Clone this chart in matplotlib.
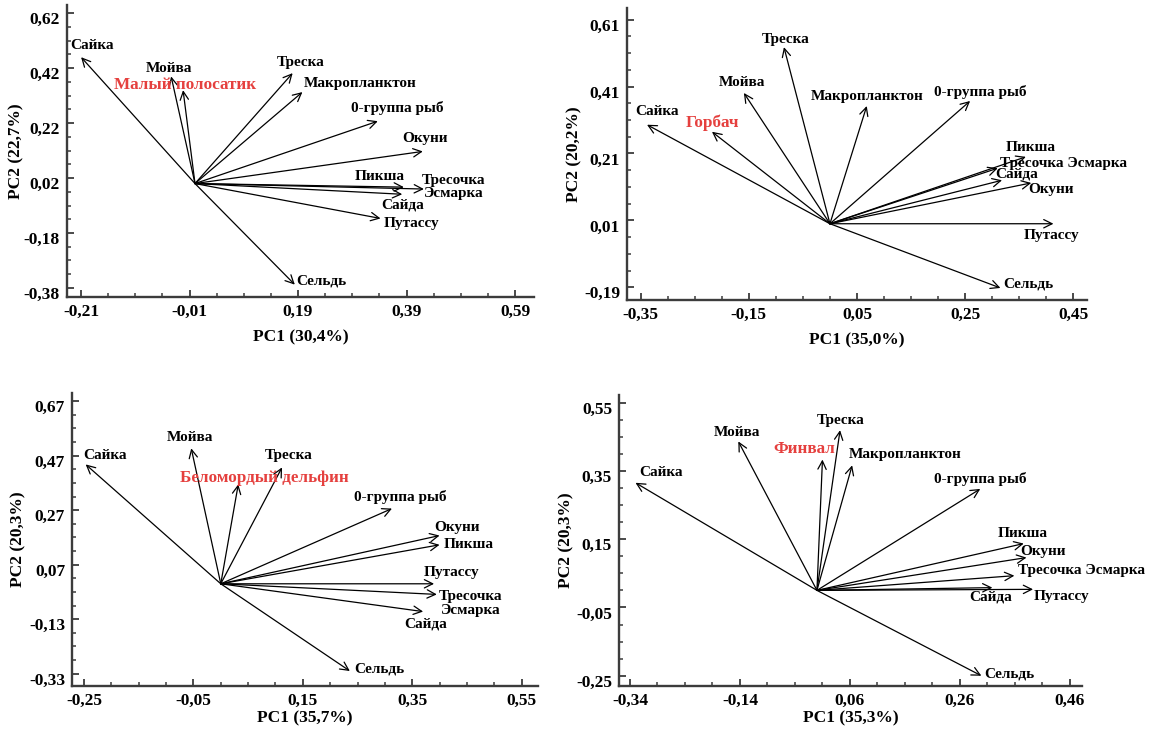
import matplotlib
matplotlib.use('Agg')
import matplotlib.pyplot as plt
from matplotlib.transforms import ScaledTranslation

plt.rcParams['font.family'] = ['Liberation Serif', 'DejaVu Serif']
plt.rcParams['font.weight'] = 'bold'

# ---------------- data ----------------
p1_species = ['Сайка', 'Мойва', 'Малый полосатик', 'Треска', 'Макропланктон', '0-группа рыб',
              'Окуни', 'Пикша', 'Тресочка Эсмарка', 'Сайда', 'Путассу', 'Сельдь']
p1_pc1 = [-0.210, -0.044, -0.022, 0.180, 0.198, 0.337, 0.420, 0.385, 0.422, 0.382, 0.342, 0.184]
p1_pc2 = [0.460, 0.390, 0.340, 0.402, 0.333, 0.227, 0.117, -0.013, -0.020, -0.039, -0.127, -0.368]
p1_xlabel = 'PC1 (30,4%)'
p1_ylabel = 'PC2 (22,7%)'
p1_xticks = [-0.21, -0.01, 0.19, 0.39, 0.59]
p1_yticks = [-0.38, -0.18, 0.02, 0.22, 0.42, 0.62]

p2_species = ['Сайка', 'Горбач', 'Мойва', 'Треска', 'Макропланктон', '0-группа рыб',
              'Пикша', 'Тресочка Эсмарка', 'Сайда', 'Окуни', 'Путассу', 'Сельдь']
p2_pc1 = [-0.338, -0.218, -0.159, -0.085, 0.068, 0.259, 0.362, 0.310, 0.318, 0.372, 0.413, 0.315]
p2_pc2 = [0.296, 0.275, 0.391, 0.528, 0.352, 0.367, 0.200, 0.166, 0.130, 0.122, 0.000, -0.192]
p2_xlabel = 'PC1 (35,0%)'
p2_ylabel = 'PC2 (20,2%)'
p2_xticks = [-0.35, -0.15, 0.05, 0.25, 0.45]
p2_yticks = [-0.19, 0.01, 0.21, 0.41, 0.61]

p3_species = ['Сайка', 'Мойва', 'Беломордый дельфин', 'Треска', '0-группа рыб', 'Окуни',
              'Пикша', 'Путассу', 'Тресочка Эсмарка', 'Сайда', 'Сельдь']
p3_pc1 = [-0.247, -0.054, 0.032, 0.112, 0.313, 0.400, 0.400, 0.390, 0.395, 0.370, 0.236]
p3_pc2 = [0.438, 0.497, 0.365, 0.427, 0.276, 0.177, 0.143, 0.000, -0.039, -0.102, -0.320]
p3_xlabel = 'PC1 (35,7%)'
p3_ylabel = 'PC2 (20,3%)'
p3_xticks = [-0.25, -0.05, 0.15, 0.35, 0.55]
p3_yticks = [-0.33, -0.13, 0.07, 0.27, 0.47, 0.67]

p4_species = ['Сайка', 'Мойва', 'Финвал', 'Треска', 'Макропланктон', '0-группа рыб',
              'Пикша', 'Окуни', 'Тресочка Эсмарка', 'Сайда', 'Путассу', 'Сельдь']
p4_pc1 = [-0.330, -0.143, 0.010, 0.042, 0.064, 0.297, 0.376, 0.381, 0.359, 0.319, 0.393, 0.299]
p4_pc2 = [0.315, 0.436, 0.383, 0.469, 0.366, 0.297, 0.137, 0.096, 0.043, 0.008, 0.003, -0.250]
p4_xlabel = 'PC1 (35,3%)'
p4_ylabel = 'PC2 (20,3%)'
p4_xticks = [-0.34, -0.14, 0.06, 0.26, 0.46]
p4_yticks = [-0.25, -0.05, 0.15, 0.35, 0.55]

whales = ['Малый полосатик', 'Горбач', 'Беломордый дельфин', 'Финвал']

# ---------------- layout (pixels) ----------------
W, H = 1150, 732
RED = '#e5403e'
layout = [
    dict(rect=(67, 534, 5, 297), xlim=(-0.236, 0.625), ylim=(-0.413, 0.65), ylab_x=16, xlab_y=337,
         wrap={'Тресочка Эсмарка'},
         off={'Сайка': (11, -12), 'Мойва': (-2, -8), 'Малый полосатик': (2, -5), 'Треска': (8, -11),
              'Макропланктон': (58, -9), '0-группа рыб': (20, -13), 'Окуни': (2, -13),
              'Пикша': (-24, -11), 'Тресочка Эсмарка': (30, -2), 'Сайда': (0, 11),
              'Путассу': (31, 5), 'Сельдь': (27, -4)}),
    dict(rect=(627, 1087, 8, 300), xlim=(-0.375, 0.475), ylim=(-0.228, 0.645), ylab_x=574, xlab_y=340,
         wrap=set(),
         off={'Сайка': (10, -13), 'Горбач': (0, -9), 'Мойва': (-2, -10), 'Треска': (2, -8),
              'Макропланктон': (0, -10), '0-группа рыб': (10, -9), 'Пикша': (5, -9),
              'Тресочка Эсмарка': (66, -5), 'Сайда': (15, -6), 'Окуни': (20, 7),
              'Путассу': (-2, 12), 'Сельдь': (28, -4)}),
    dict(rect=(72, 538, 393, 686), xlim=(-0.272, 0.58), ylim=(-0.375, 0.70), ylab_x=18, xlab_y=718,
         wrap={'Тресочка Эсмарка'},
         off={'Сайка': (19, -9), 'Мойва': (-1, -11), 'Беломордый дельфин': (26, -6), 'Треска': (7, -12),
              '0-группа рыб': (8, -12), 'Окуни': (17, -8), 'Пикша': (29, 0), 'Путассу': (17, -11),
              'Тресочка Эсмарка': (34, 9), 'Сайда': (2, 12), 'Сельдь': (29, -2)}),
    dict(rect=(619, 1082, 395, 686), xlim=(-0.36, 0.482), ylim=(-0.28, 0.572), ylab_x=566, xlab_y=718,
         wrap=set(),
         off={'Сайка': (26, -10), 'Мойва': (-1, -9), 'Финвал': (-18, -11), 'Треска': (1, -10),
              'Макропланктон': (53, -11), '0-группа рыб': (0, -10), 'Пикша': (-1, -10),
              'Окуни': (17, -6), 'Тресочка Эсмарка': (67, -5), 'Сайда': (-2, 9),
              'Путассу': (28, 7), 'Сельдь': (28, -2)}),
]

panels = [
    (p1_species, p1_pc1, p1_pc2, p1_xticks, p1_yticks, p1_xlabel, p1_ylabel),
    (p2_species, p2_pc1, p2_pc2, p2_xticks, p2_yticks, p2_xlabel, p2_ylabel),
    (p3_species, p3_pc1, p3_pc2, p3_xticks, p3_yticks, p3_xlabel, p3_ylabel),
    (p4_species, p4_pc1, p4_pc2, p4_xticks, p4_yticks, p4_xlabel, p4_ylabel),
]

fig = plt.figure(figsize=(W / 100, H / 100), dpi=100)
fig.patch.set_facecolor('white')

for (species, pc1, pc2, xt, yt, xl, yl), lay in zip(panels, layout):
    l, r, t, b = lay['rect']
    ax = fig.add_axes([l / W, 1 - b / H, (r - l) / W, (b - t) / H])
    ax.set_xlim(*lay['xlim'])
    ax.set_ylim(*lay['ylim'])
    for s in ('top', 'right'):
        ax.spines[s].set_visible(False)
    for s in ('left', 'bottom'):
        ax.spines[s].set_color('#3c3c3c')
        ax.spines[s].set_linewidth(1.7)
    ax.set_xticks(xt)
    ax.set_yticks(yt)
    ax.set_xticklabels([f'{v:.2f}'.replace('.', ',') for v in xt])
    ax.set_yticklabels([f'{v:.2f}'.replace('.', ',') for v in yt])
    ax.set_xticks([xt[0] + 0.05 * i for i in range(-1, 18) if lay['xlim'][0] <= xt[0] + 0.05 * i <= lay['xlim'][1]], minor=True)
    ax.set_yticks([yt[0] + 0.05 * i for i in range(-1, 24) if lay['ylim'][0] <= yt[0] + 0.05 * i <= lay['ylim'][1]], minor=True)
    ax.tick_params(which='major', direction='in', length=5, width=1.3, color='#3c3c3c',
                   labelsize=12.5, pad=5)
    ax.tick_params(which='minor', direction='in', length=3, width=1.1, color='#3c3c3c')
    for lab in ax.get_xticklabels() + ax.get_yticklabels():
        lab.set_fontweight('bold')
    for lab in ax.get_yticklabels():
        lab.set_transform(lab.get_transform() + ScaledTranslation(0, -0.05, fig.dpi_scale_trans))

    ax.set_xlabel(xl, fontsize=12.5, fontweight='bold', va='center')
    ax.set_ylabel(yl, fontsize=12.5, fontweight='bold', va='center', ha='center')
    ax.xaxis.set_label_coords(0.5, -(lay['xlab_y'] - b) / (b - t))
    ax.yaxis.set_label_coords(-(l - lay['ylab_x']) / (r - l), 0.5)

    for name, x, y in zip(species, pc1, pc2):
        ax.annotate('', xy=(x, y), xytext=(0, 0),
                    arrowprops=dict(arrowstyle='->', color='black', lw=0.9,
                                    shrinkA=0, shrinkB=0, mutation_scale=15),
                    annotation_clip=False)
    for name, x, y in zip(species, pc1, pc2):
        dx, dy = lay['off'][name]
        is_whale = name in whales
        txt = name.replace(' ', '\n') if name in lay['wrap'] else name
        ax.annotate(txt, xy=(x, y), xytext=(dx, -dy), textcoords='offset pixels',
                    ha='center', va='center', fontsize=12.3 if is_whale else 11,
                    fontweight='bold', color=RED if is_whale else 'black',
                    linespacing=1.05, annotation_clip=False, zorder=5)

fig.savefig('out.png', dpi=100, facecolor='white')
